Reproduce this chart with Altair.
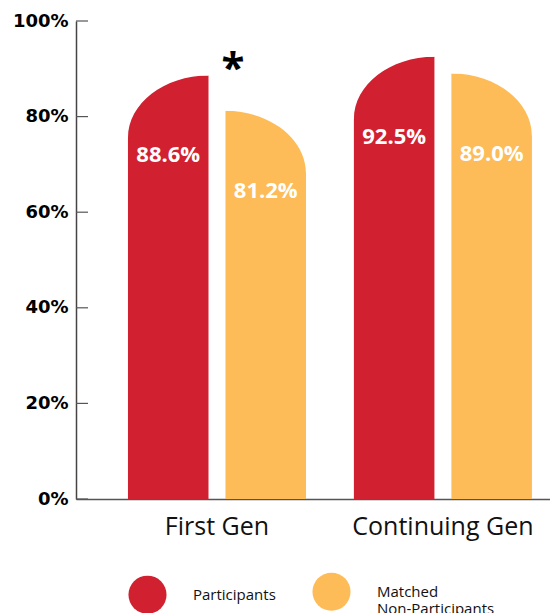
import altair as alt
import pandas as pd

categories = ["First Gen", "Continuing Gen"]
groups = ["Participants", "Matched Non-Participants"]
participants = [88.6, 92.5]
matched = [81.2, 89.0]
y_ticks = [0, 20, 40, 60, 80, 100]
star_category = ["First Gen"]
star_value = [88.6]

RED = "#D12030"
YELLOW = "#FDBC57"

rows = []
for c, p, m in zip(categories, participants, matched):
    rows.append({"category": c, "group": groups[0], "value": p, "label": f"{p:.1f}%"})
    rows.append({"category": c, "group": groups[1], "value": m, "label": f"{m:.1f}%"})
df = pd.DataFrame(rows)
tick_df = pd.DataFrame({"tick": y_ticks})
star_df = pd.DataFrame({"category": star_category, "value": star_value, "mark": ["*"]})

# white "cut" shapes that carve the rounded (quarter-ellipse) top corner
cap_left = "M-1.15,-0.15 L1,-0.15 L1,0 C-0.1046,0 -1,0.694 -1,1.55 L-1.15,1.55 Z"
cap_right = "M1.15,-0.15 L-1,-0.15 L-1,0 C0.1046,0 1,0.694 1,1.55 L1.15,1.55 Z"

x_enc = alt.X(
    "category:N",
    sort=categories,
    scale=alt.Scale(domain=categories, paddingInner=0.212, paddingOuter=0.155, align=0.742),
    axis=alt.Axis(
        title=None, labelAngle=0, ticks=False, labelFont="Open Sans", labelFontSize=25,
        labelColor="#111", labelPadding=15, labelLimit=400, domainColor="#555", domainWidth=1.5,
    ),
)
xo_enc = alt.XOffset(
    "group:N", sort=groups, scale=alt.Scale(domain=groups, paddingInner=0.174, paddingOuter=0)
)
y_enc = alt.Y(
    "value:Q",
    scale=alt.Scale(domain=[0, 100]),
    axis=alt.Axis(
        title=None, values=y_ticks, ticks=False, grid=False, labelExpr="datum.value + '%'",
        labelFont="DejaVu Sans", labelFontWeight="bold", labelFontSize=18, labelColor="#000",
        labelPadding=8, domainColor="#444", domainWidth=1.5,
    ),
)

base = alt.Chart(df)

bars = base.mark_bar().encode(
    x=x_enc,
    xOffset=xo_enc,
    y=y_enc,
    color=alt.Color(
        "group:N",
        sort=groups,
        scale=alt.Scale(domain=groups, range=[RED, YELLOW]),
        legend=alt.Legend(
            title=None, orient="none", legendX=52, legendY=551, direction="horizontal",
            symbolType="circle", symbolSize=1452, symbolStrokeWidth=0, symbolOpacity=1,
            labelFont="Open Sans", labelFontSize=15, labelColor="#111", labelOffset=26,
            columnPadding=36, padding=0, labelLimit=200,
            labelExpr="datum.label == 'Matched Non-Participants' ? ['Matched', 'Non-Participants'] : datum.label",
        ),
    ),
)

caps = base.mark_point(filled=True, opacity=1, size=6480, strokeWidth=0).encode(
    x=x_enc,
    xOffset=xo_enc,
    y=y_enc,
    shape=alt.Shape("group:N", scale=alt.Scale(domain=groups, range=[cap_left, cap_right]), legend=None),
    color=alt.value("white"),
)

labels = base.mark_text(
    color="white", font="Open Sans", fontWeight="bold", fontSize=22, baseline="middle", dy=80
).encode(x=x_enc, xOffset=xo_enc, y=y_enc, text="label:N")

star = alt.Chart(star_df).mark_text(
    color="#000", font="Open Sans", fontWeight="bold", fontSize=42, baseline="alphabetic", dx=16, dy=7
).encode(
    x=alt.X("category:N", sort=categories),
    y=alt.Y("value:Q"),
    text="mark:N",
)

ticks = alt.Chart(tick_df).mark_rule(color="#555", strokeWidth=1.2).encode(
    y=alt.Y("tick:Q"), x=alt.value(0), x2=alt.value(12)
)

chart = (
    alt.layer(bars, caps, labels, star, ticks)
    .resolve_scale(shape="independent")
    .properties(
        width=474,
        height=478,
        autosize=alt.AutoSizeParams(type="none"),
        padding={"left": 68, "top": 13, "right": 0, "bottom": 114},
    )
    .configure_view(strokeWidth=0)
)

chart.save("out.html", embed_options={"renderer": "svg", "actions": False})
